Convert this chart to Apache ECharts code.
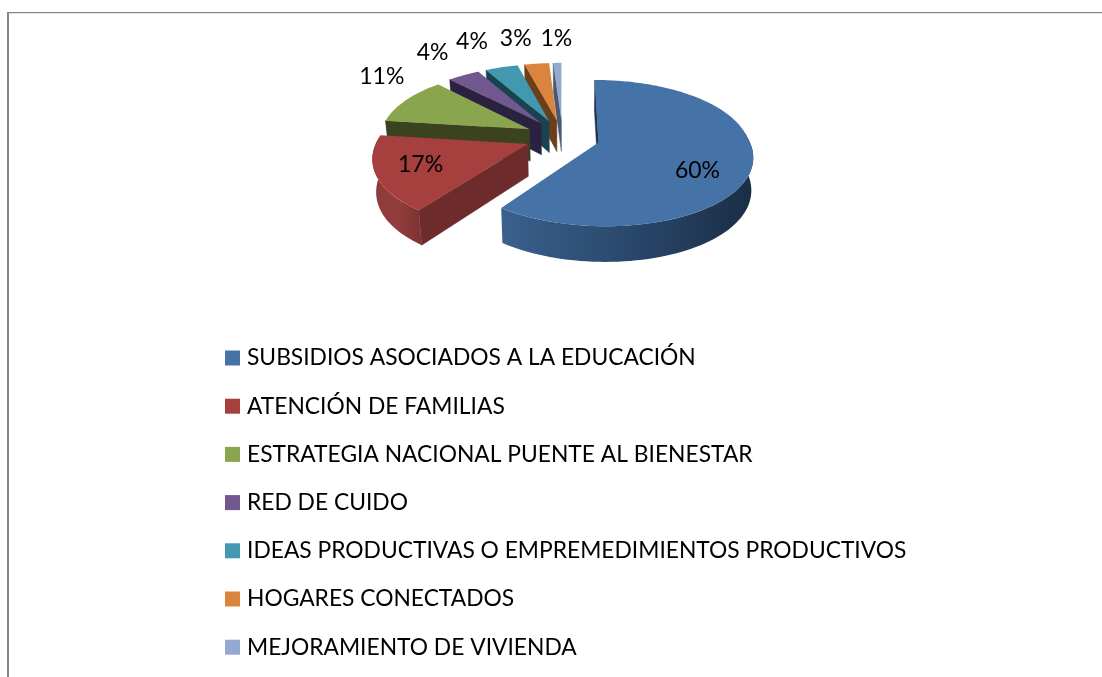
<!DOCTYPE html>
<html>
<head>
<meta charset="utf-8">
<style>html,body{margin:0;padding:0;background:#fff}#c{width:1102px;height:677px}</style>
<script src="https://cdn.jsdelivr.net/npm/echarts@6/dist/echarts.min.js"></script>
</head>
<body>
<div id="c"></div>
<script>
var categories = [
  'SUBSIDIOS ASOCIADOS A LA EDUCACIÓN',
  'ATENCIÓN DE FAMILIAS',
  'ESTRATEGIA NACIONAL PUENTE AL BIENESTAR',
  'RED DE CUIDO',
  'IDEAS PRODUCTIVAS O EMPREMEDIMIENTOS PRODUCTIVOS',
  'HOGARES CONECTADOS',
  'MEJORAMIENTO DE VIVIENDA'
];
var values = [60, 17, 11, 4, 4, 3, 1];
var faceColors = ['#4572A7', '#A6403E', '#89A54E', '#71588F', '#4198AF', '#DB843D', '#93A9CF'];
var cutColors = ['#1C3350', '#6D2C2B', '#3A421F', '#2B2140', '#1A4351', '#6B3F1A', '#4A5870'];
var wallStops = [
  ['#3A608C', '#2A486C', '#1A2E45'],
  ['#8C3A38', '#933E3C', '#7C3331'],
  ['#3A421F', '#3A421F', '#3A421F'],
  ['#2B2140', '#2B2140', '#2B2140'],
  ['#1A4351', '#1A4351', '#1A4351'],
  ['#6B3F1A', '#6B3F1A', '#6B3F1A'],
  ['#4A5870', '#4A5870', '#4A5870']
];
var labelReach = [0.95, 0.95, 1.25, 1.25, 1.25, 1.25, 1.25];
var labelNudgeX = [-7, -3, -24, -31, -29.5, -21, -1];
var labelNudgeY = [12.5, 0, -24, -23, -26, -25, -24];

// 3D view of the pie
var X0 = 562.5, Y0 = 137, RX = 149.5, RY = 70, PERSP_X_FRONT = 0.165, PERSP_X_BACK = 0.11, PERSP_Y = 0.144,
    EXPLODE = 0.25, DEPTH = 32, SHRINK_L = 0.98, SHRINK_R = 0.99, SHRINK_Y = 0.975;
var FONT = 'Lato, Carlito, Calibri, sans-serif';
var total = values.reduce(function (a, b) { return a + b; }, 0);

function dir(deg) {
  var t = deg * Math.PI / 180;
  return [Math.sin(t), -Math.cos(t)];
}
function project(px, py) {
  var kx = py > 0 ? PERSP_X_FRONT : PERSP_X_BACK;
  return [X0 + RX * px / (1 - kx * py), Y0 + RY * py / (1 - PERSP_Y * py)];
}
function projectLow(px, py) {
  var d = 1 - PERSP_Y * py, t = project(px, py);
  var s = t[0] < X0 ? SHRINK_L : SHRINK_R;
  return [X0 + s * (t[0] - X0), Y0 + SHRINK_Y * (t[1] - Y0) + DEPTH / d];
}
function makeRender(i) {
  return function (params, api) {
    var v = api.value(0);
    var before = 0;
    for (var k = 0; k < i; k++) before += values[k];
    var a0 = before / total * 360, a1 = (before + v) / total * 360, mid = (a0 + a1) / 2;
    var m = dir(mid), ox = EXPLODE * m[0], oy = EXPLODE * m[1];
    var at = function (deg, fn) { var u = dir(deg); return fn(ox + u[0], oy + u[1]); };
    var children = [];

    // start-edge cut face
    children.push({
      type: 'polygon',
      shape: { points: [project(ox, oy), at(a0, project), at(a0, projectLow), projectLow(ox, oy)] },
      style: { fill: cutColors[i], stroke: cutColors[i], lineWidth: 0.5 }
    });
    // outer wall, only the part facing the viewer
    var w0 = Math.max(a0, 82), w1 = Math.min(a1, 278);
    if (w1 > w0) {
      var up = [], low = [];
      for (var d = w0; d < w1; d += 2) { up.push(at(d, project)); low.push(at(d, projectLow)); }
      up.push(at(w1, project)); low.push(at(w1, projectLow));
      var g = wallStops[i];
      children.push({
        type: 'polygon',
        shape: { points: up.concat(low.reverse()) },
        style: {
          fill: {
            type: 'linear', x: 0, y: 0, x2: 1, y2: 0,
            colorStops: [
              { offset: 0, color: g[0] }, { offset: 0.5, color: g[1] }, { offset: 1, color: g[2] }
            ]
          }
        }
      });
    }
    // top face
    var pts = [project(ox, oy)];
    for (var e = a0; e < a1; e += 1) pts.push(at(e, project));
    pts.push(at(a1, project));
    children.push({ type: 'polygon', shape: { points: pts }, style: { fill: faceColors[i] } });

    // percentage label
    var r = labelReach[i], lp = project(r * m[0], r * m[1]);
    children.push({
      type: 'text',
      style: {
        x: lp[0] + labelNudgeX[i], y: lp[1] + labelNudgeY[i],
        text: Math.round(v / total * 100) + '%',
        fill: '#000', font: '23px ' + FONT, align: 'center', verticalAlign: 'middle'
      }
    });
    return { type: 'group', children: children };
  };
}

var series = categories.map(function (name, i) {
  return {
    type: 'custom',
    name: name,
    coordinateSystem: 'none',
    z: 10 - i,
    silent: true,
    itemStyle: { color: faceColors[i] },
    renderItem: makeRender(i),
    data: [[values[i]]]
  };
});

var chart = echarts.init(document.getElementById('c'), null, { renderer: 'canvas' });
chart.setOption({
  animation: false,
  backgroundColor: '#fff',
  graphic: [
    { type: 'rect', shape: { x: 7, y: 12, width: 2, height: 665 }, style: { fill: '#868686' }, silent: true },
    { type: 'rect', shape: { x: 7, y: 12, width: 1095, height: 1.3 }, style: { fill: '#868686' }, silent: true }
  ],
  legend: {
    orient: 'vertical',
    left: 225,
    top: 346,
    padding: 0,
    itemWidth: 15,
    itemHeight: 15,
    itemGap: 24.2,
    icon: 'rect',
    selectedMode: false,
    data: categories,
    textStyle: { color: '#000', fontFamily: FONT, fontSize: 22.8, lineHeight: 24, padding: [0, 0, 0, 2] }
  },
  series: series
});
</script>
</body>
</html>
